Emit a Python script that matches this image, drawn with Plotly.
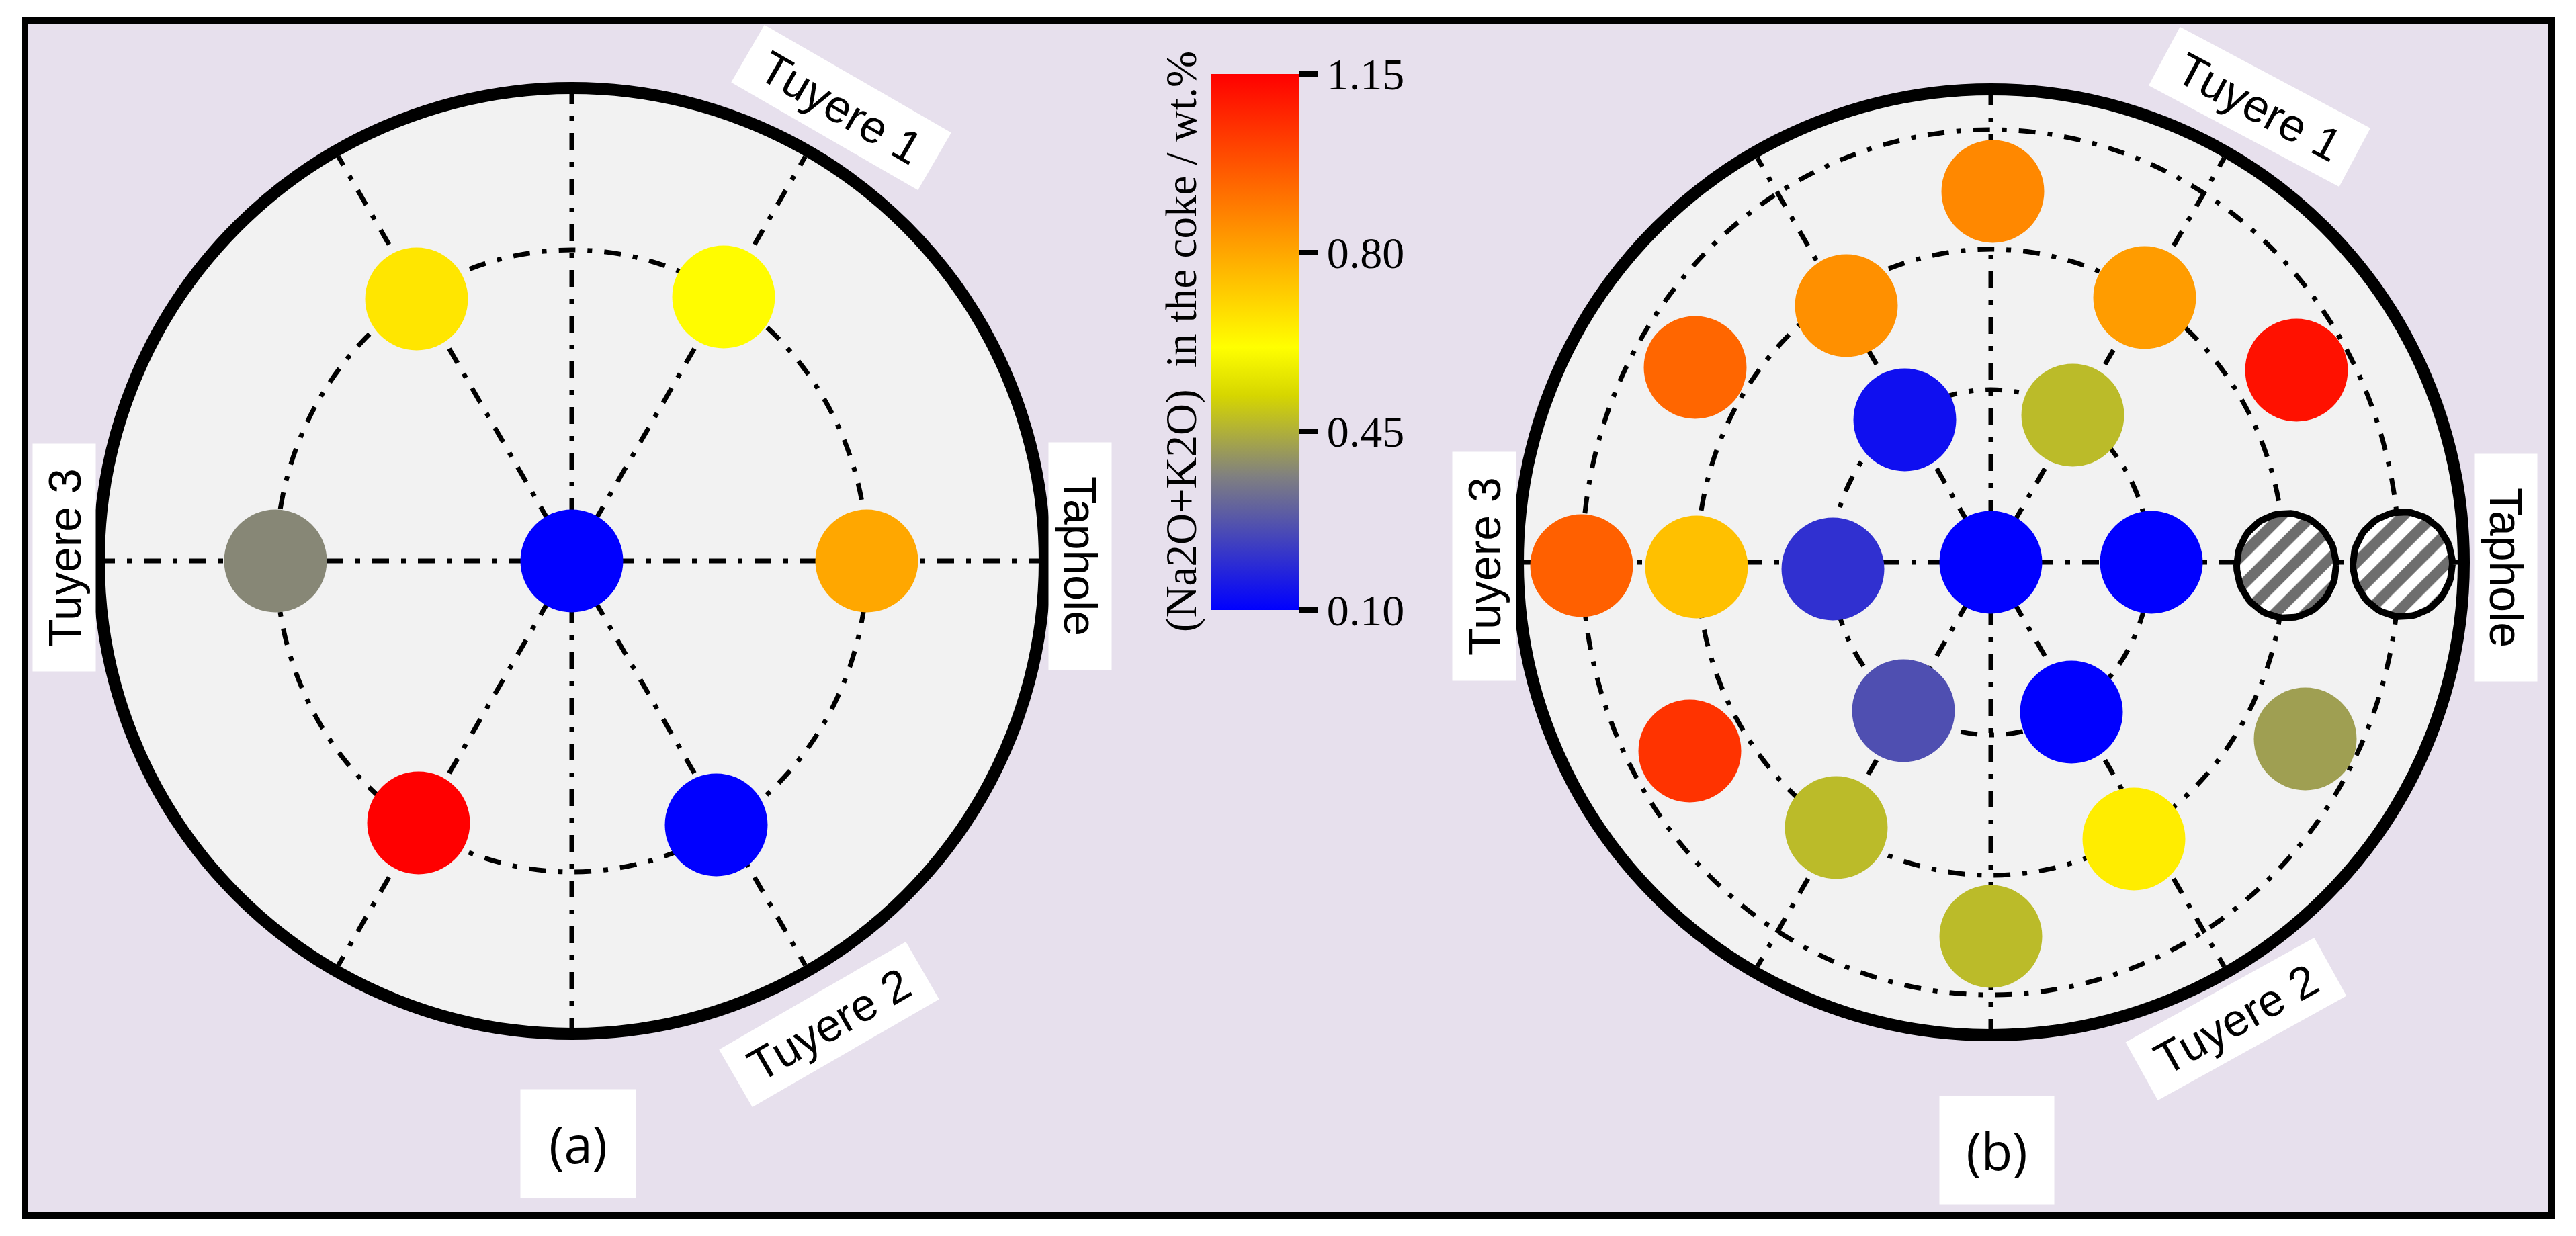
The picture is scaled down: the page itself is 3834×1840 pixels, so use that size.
import math
import plotly.graph_objects as go

# ---------------- data ----------------
cmin, cmax = 0.10, 1.15
cbar_tickvals = [0.10, 0.45, 0.80, 1.15]
cbar_ticktext = ["0.10", "0.45", "0.80", "1.15"]
cbar_title = "(Na2O+K2O)\u00a0 in the coke / wt.%"

# Panel (a): sampling positions (offset from furnace centre, y up) and (Na2O+K2O) values
a_dx = [0, -231, 226, -441, 439, -228, 215]
a_dy = [0, 390, 393, 0, 0, -390, -393]
a_val = [0.10, 0.667, 0.62, 0.375, 0.80, 1.15, 0.10]

# Panel (b): None = no sample (hatched)
b_dx = [0, -128, 122, -235, 239, -130, 120,
        3, -215, 229, -438, 440, -230, 213, 0,
        -440, 455, -609, 613, -448, 468]
b_dy = [0, 212, 219, -10, 0, -221, -223,
        552, 382, 394, -7, -5, -395, -412, -557,
        290, 286, -5, -3, -281, -263]
b_val = [0.10, 0.13, 0.47, 0.198, 0.10, 0.262, 0.10,
         0.864, 0.848, 0.822, 0.747, None, 0.47, 0.652, 0.47,
         0.936, 1.114, 0.948, None, 1.043, 0.419]

# ---------------- styling / layout geometry ----------------
W, H = 3834, 1840
LAVENDER = "#e7e0ed"
DISC = "#f2f2f2"
DASHDOT = "25px,18px,7px,18px"
CENTERS = {"a": (851, 835), "b": (2963, 837)}
R_OUT = 704
RINGS = {"a": [(440, 463)], "b": [(237, 257), (437, 466), (608, 644)]}
SPOKES = [0, 60, 90, 120, 180, 240, 270, 300]
DOT_SIZE = 153

colorscale = [[0.0, "rgb(0,0,255)"], [0.25, "rgb(128,128,128)"],
              [0.40, "rgb(214,214,0)"], [0.49, "rgb(255,255,0)"],
              [1.0, "rgb(255,0,0)"]]

shapes = []
# outer frame
shapes.append(dict(type="rect", xref="x", yref="y", x0=37, x1=3798, y0=30, y1=1810,
                   line=dict(color="black", width=10), fillcolor=LAVENDER, layer="below"))
for key, (cx, cy) in CENTERS.items():
    shapes.append(dict(type="circle", xref="x", yref="y",
                       x0=cx - R_OUT, x1=cx + R_OUT, y0=cy - R_OUT, y1=cy + R_OUT,
                       line=dict(color="black", width=18), fillcolor=DISC, layer="below"))
    for rx, ry in RINGS[key]:
        shapes.append(dict(type="circle", xref="x", yref="y",
                           x0=cx - rx, x1=cx + rx, y0=cy - ry, y1=cy + ry,
                           line=dict(color="black", width=7, dash=DASHDOT), layer="below"))
    for ang in SPOKES:
        t = math.radians(ang)
        shapes.append(dict(type="line", xref="x", yref="y", x0=cx, y0=cy,
                           x1=cx + (R_OUT - 9) * math.cos(t),
                           y1=cy - (R_OUT - 9) * math.sin(t),
                           line=dict(color="black", width=7, dash=DASHDOT), layer="below"))

fig = go.Figure()


def add_panel(key, dxs, dys, vals):
    cx, cy = CENTERS[key]
    xs = [cx + dx for dx, v in zip(dxs, vals) if v is not None]
    ys = [cy - dy for dy, v in zip(dys, vals) if v is not None]
    cs = [v for v in vals if v is not None]
    fig.add_trace(go.Scatter(
        x=xs, y=ys, mode="markers",
        marker=dict(size=DOT_SIZE, color=cs, coloraxis="coloraxis", line=dict(width=0)),
        showlegend=False, hoverinfo="skip"))
    # hatched (missing) sampling points
    hx, hy = [], []
    for dx, dy, v in zip(dxs, dys, vals):
        if v is None:
            for k in range(73):
                t = 2 * math.pi * k / 72
                hx.append(cx + dx + 74 * math.cos(t))
                hy.append(cy - dy + 78 * math.sin(t))
            hx.append(None)
            hy.append(None)
    if hx:
        fig.add_trace(go.Scatter(
            x=hx, y=hy, mode="lines", fill="toself",
            fillcolor="white",
            fillpattern=dict(shape="/", fgcolor="#6e6e6e", bgcolor="white",
                             size=32, solidity=0.5, fgopacity=1),
            line=dict(color="black", width=10),
            showlegend=False, hoverinfo="skip"))


add_panel("a", a_dx, a_dy, a_val)
add_panel("b", b_dx, b_dy, b_val)

sans = "Liberation Sans, Arial, sans-serif"
serif = "Liberation Serif, Times New Roman, serif"


def label(text, x, y, angle, w, h, family=sans, size=68):
    return dict(text=text, x=x, y=y, xref="x", yref="y", showarrow=False,
                textangle=angle, width=w, height=h, bgcolor="white", borderpad=0,
                xanchor="center", yanchor="middle",
                font=dict(family=family, size=size, color="black"))


annotations = [
    label("Tuyere 1", 1252, 160, 30, 320, 98),
    label("Tuyere 2", 1234, 1525, -30, 320, 98),
    label("Tuyere 3", 95, 830, -90, 338, 93),
    label("Taphole", 1608, 828, 90, 338, 93),
    label("Tuyere 1", 3363, 159, 28, 320, 98),
    label("Tuyere 2", 3328, 1517, -29, 320, 98),
    label("Tuyere 3", 2209, 843, -90, 340, 94),
    label("Taphole", 3730, 845, 90, 338, 93),
    label("(a)", 860, 1702, 0, 171, 161, family="Open Sans", size=76),
    label("(b)", 2972, 1712, 0, 170, 161, family="Open Sans", size=76),
    dict(text=cbar_title, x=1758, y=509, xref="x", yref="y", showarrow=False,
         textangle=-90, xanchor="center", yanchor="middle",
         font=dict(family=serif, size=65, color="black")),
]

fig.update_layout(
    width=W, height=H,
    margin=dict(l=0, r=0, t=0, b=0, pad=0),
    paper_bgcolor="white", plot_bgcolor="white",
    xaxis=dict(range=[0, W], visible=False, fixedrange=True),
    yaxis=dict(range=[H, 0], visible=False, fixedrange=True),
    shapes=shapes,
    annotations=annotations,
    coloraxis=dict(
        colorscale=colorscale, cmin=cmin, cmax=cmax,
        colorbar=dict(
            thickness=130, thicknessmode="pixels",
            len=798, lenmode="pixels",
            x=1803 / W, xanchor="left", y=1 - 509 / H, yanchor="middle",
            xpad=0, ypad=0, outlinewidth=0,
            ticks="outside", ticklen=29, tickwidth=8, tickcolor="black",
            tickvals=cbar_tickvals, ticktext=cbar_ticktext,
            tickfont=dict(family=serif, size=66, color="black"),
        ),
    ),
    showlegend=False,
)

fig.write_html("out.html", config={"displayModeBar": False},
               post_script="document.body.style.margin='0';document.body.style.overflow='hidden';")
